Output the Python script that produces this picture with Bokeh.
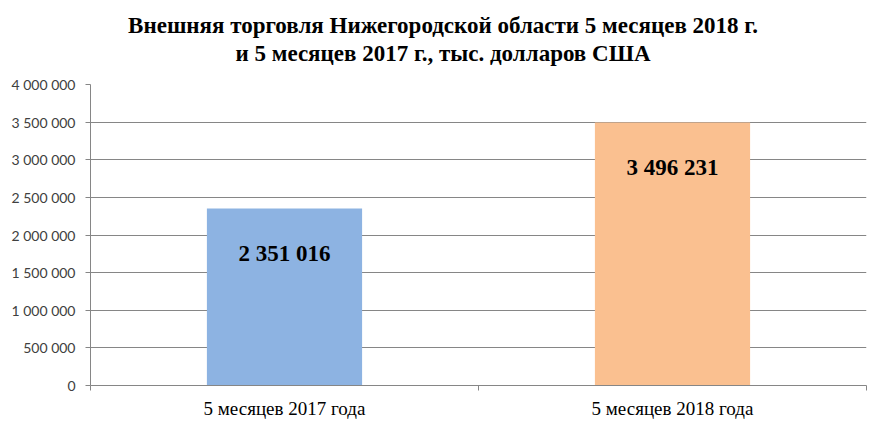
from bokeh.plotting import figure
from bokeh.models import FixedTicker, Div, ColumnDataSource, Range1d
from bokeh.layouts import column
from bokeh.core.properties import value
from bokeh.embed import file_html
from bokeh.resources import INLINE

categories = ["5 месяцев 2017 года", "5 месяцев 2018 года"]
values = [2351016, 3496231]
colors = ["#8DB3E2", "#FAC090"]
y_ticks = [0, 500000, 1000000, 1500000, 2000000, 2500000, 3000000, 3500000, 4000000]
y_tick_labels = ["0", "500 000", "1 000 000", "1 500 000", "2 000 000",
                 "2 500 000", "3 000 000", "3 500 000", "4 000 000"]
title_lines = ["Внешняя торговля Нижегородской области 5 месяцев 2018 г.",
               "и 5 месяцев 2017 г., тыс. долларов США"]

W = 878
TITLE_H = 68
H = 423 - TITLE_H
LEFT, RIGHT, TOP, BOTTOM = 90, 12, 84 - TITLE_H, 38
xs = [i + 0.5 for i in range(len(categories))]
labels = [f"{v:,}".replace(",", " ") for v in values]
src = ColumnDataSource(dict(x=xs, top=values, color=colors, label=labels))

title = Div(text="<br>".join(title_lines), width=W, height=TITLE_H, margin=0,
            styles={"text-align": "center", "font-family": "'Liberation Serif'",
                    "font-weight": "bold", "font-size": "23px", "line-height": "28px",
                    "padding-top": "12px", "padding-left": "8px", "color": "black",
                    "width": f"{W}px", "box-sizing": "border-box"})

p = figure(width=W, height=H, output_backend="svg", toolbar_location=None,
           x_range=Range1d(0, len(categories)), y_range=Range1d(0, 4000000),
           min_border_left=LEFT, min_border_right=RIGHT, min_border_top=TOP,
           min_border_bottom=BOTTOM, margin=0)
p.outline_line_color = None
p.background_fill_color = "white"
p.title.visible = False

p.vbar(x="x", top="top", width=0.4, bottom=0, fill_color="color", line_color=None, source=src)
p.text(x="x", y="top", text="label", source=src, y_offset=45,
       text_align="center", text_baseline="middle",
       text_font=value("Liberation Serif"), text_font_style="bold",
       text_font_size="23px", text_color="black")

# y axis
p.yaxis.ticker = FixedTicker(ticks=y_ticks, minor_ticks=[])
p.yaxis.major_label_overrides = {t: l for t, l in zip(y_ticks, y_tick_labels)}
p.yaxis.major_label_text_font = "Lato"
p.yaxis.major_label_text_font_size = "14px"
p.yaxis.major_label_text_color = "#404040"
p.yaxis.axis_line_color = "#868686"
p.yaxis.major_tick_line_color = "#868686"
p.yaxis.major_tick_out = 5
p.yaxis.major_tick_in = 0
p.yaxis.major_label_standoff = 10
p.ygrid.grid_line_color = "#868686"
p.ygrid.ticker = FixedTicker(ticks=y_ticks)

# x axis
p.xaxis.ticker = FixedTicker(ticks=xs, minor_ticks=[float(i) for i in range(len(categories) + 1)])
p.xaxis.major_label_overrides = {x: c for x, c in zip(xs, categories)}
p.xaxis.major_label_text_font = "Liberation Serif"
p.xaxis.major_label_text_font_size = "19px"
p.xaxis.major_label_text_color = "black"
p.xaxis.axis_line_color = "#868686"
p.xaxis.major_tick_line_color = None
p.xaxis.major_tick_out = 0
p.xaxis.major_tick_in = 0
p.xaxis.minor_tick_line_color = "#868686"
p.xaxis.minor_tick_out = 5
p.xaxis.minor_tick_in = 0
p.xaxis.major_label_standoff = 7
p.xgrid.grid_line_color = None

layout = column(title, p, spacing=0, margin=0)
open("out.html", "w").write(file_html(layout, INLINE))
